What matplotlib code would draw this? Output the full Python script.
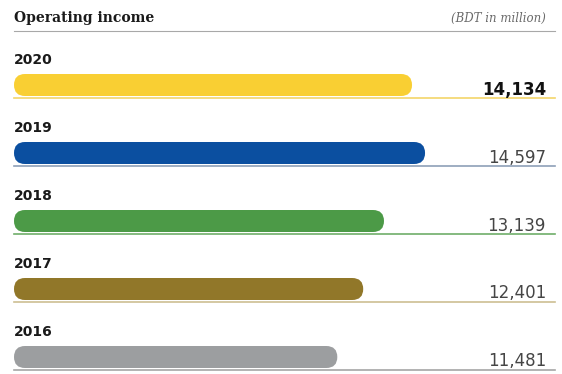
import matplotlib
matplotlib.use("Agg")
import matplotlib.pyplot as plt
from matplotlib.patches import FancyBboxPatch

years = ["2020", "2019", "2018", "2017", "2016"]
values = [14134, 14597, 13139, 12401, 11481]
value_labels = ["14,134", "14,597", "13,139", "12,401", "11,481"]
bar_colors = ["#F9CF33", "#0B4FA0", "#4C9A47", "#917729", "#9C9EA0"]
rule_colors = ["#F3D56A", "#8EA0B8", "#6FAE6A", "#CDBF92", "#A6A6A6"]

W, H = 562, 374
fig = plt.figure(figsize=(W / 100, H / 100), dpi=100)
ax = fig.add_axes([0, 0, 1, 1])

# horizontal scale: value units, with the zero line 14 px from the left edge
px_per_unit = 0.02816
x0 = -14 / px_per_unit
x1 = (W - 14) / px_per_unit
ax.set_xlim(x0, x1)
ax.set_ylim(H, 0)
ax.axis("off")

def px(x):
    """pixel column -> value units"""
    return x0 + x / px_per_unit

# header
ax.text(px(14), 18, "Operating income", fontsize=10, fontweight="bold",
        family="DejaVu Serif", color="#1a1a1a", va="center", ha="left")
ax.text(px(546), 18, "(BDT in million)", fontsize=8.5, style="italic",
        family="DejaVu Serif", color="#6a6a6a", va="center", ha="right")
ax.plot([px(14), px(555)], [31, 31], color="#a8a8a8", lw=0.8)

bar_h = 22
row_gap = 68
first_center = 85
units_per_px = 1 / px_per_unit
for i, (yr, v, lab, bc, rc) in enumerate(zip(years, values, value_labels,
                                              bar_colors, rule_colors)):
    yc = first_center + i * row_gap
    # pill-shaped bar
    r = bar_h / 2
    patch = FancyBboxPatch((0, yc - bar_h / 2), v, bar_h,
                           boxstyle=f"round,pad=0,rounding_size={r * units_per_px}",
                           mutation_aspect=1 / units_per_px,
                           facecolor=bc, edgecolor="none", zorder=3)
    ax.add_patch(patch)
    # rule under the bar
    ax.plot([0, px(555)], [yc + 13, yc + 13], color=rc, lw=1.2, zorder=2)
    # year label
    ax.text(0, yc - 25, yr, fontsize=10, fontweight="bold",
            family="DejaVu Sans", color="#1a1a1a", va="center", ha="left")
    # value label
    bold = i == 0
    ax.text(px(546), yc + 9.5, lab, fontsize=12,
            fontweight="bold" if bold else "normal",
            family="DejaVu Sans", color="#111111" if bold else "#454545",
            va="baseline", ha="right")

fig.savefig("out.png", dpi=100)
